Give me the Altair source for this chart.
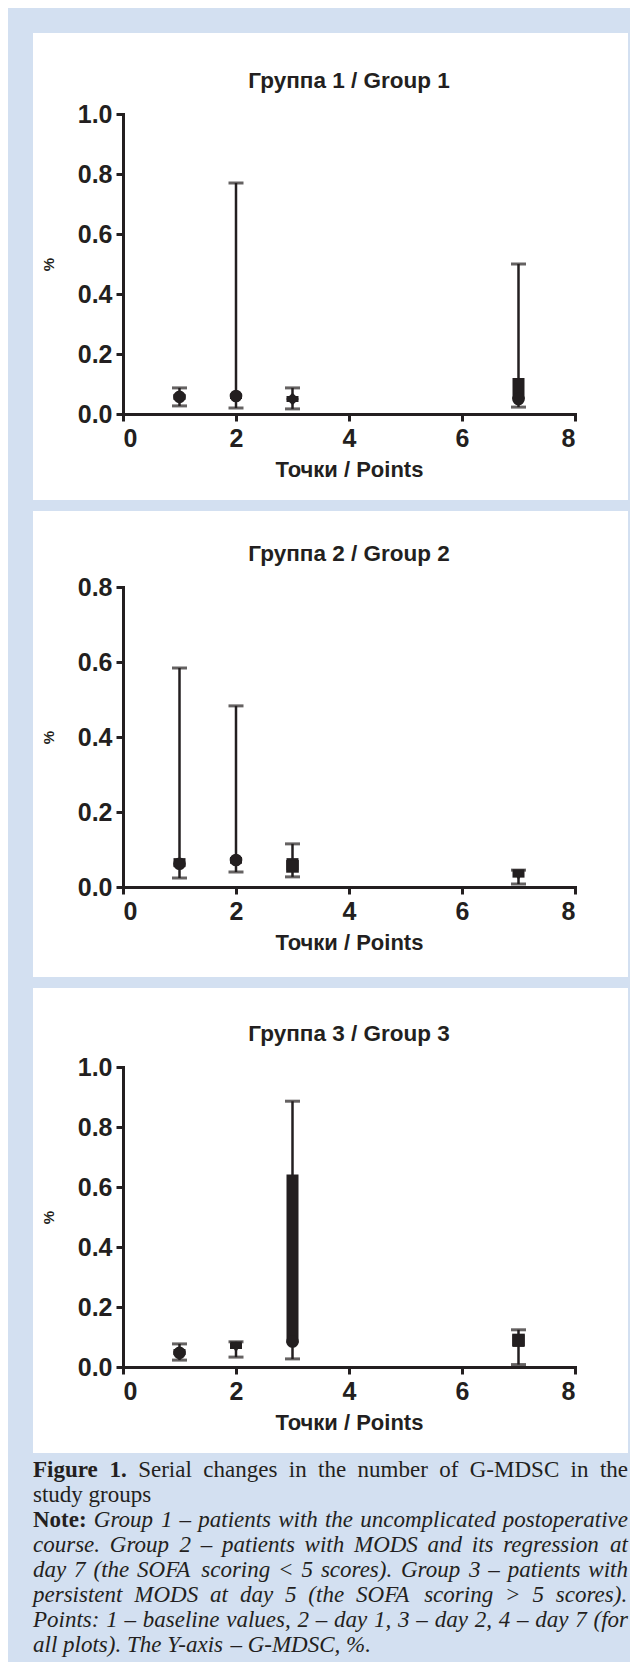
import altair as alt
import pandas as pd

BLACK = "#231f20"
BLUE = "#d3e0f1"
SANS = "Liberation Sans"
NARROW = "Liberation Sans Narrow, Arial Narrow, Liberation Sans"
SERIF = "Liberation Serif"

POINTS = [1, 2, 3, 7]
X_TICKS = [0, 2, 4, 6, 8]

TITLES = ["Группа 1 / Group 1", "Группа 2 / Group 2", "Группа 3 / Group 3"]
X_TITLE = "Точки / Points"
Y_TITLE = "%"
Y_MAX = [1.0, 0.8, 1.0]

G1_LO = [0.027, 0.020, 0.017, 0.023]
G1_HI = [0.087, 0.770, 0.087, 0.500]
G1_Q1 = [0.047, 0.050, 0.040, 0.050]
G1_Q3 = [0.067, 0.068, 0.060, 0.120]
G1_MID = [0.057, 0.060, 0.050, 0.050]
G1_SHAPE = ["circle", "circle", "diamond", "circle"]

G2_LO = [0.024, 0.040, 0.027, 0.008]
G2_HI = [0.584, 0.483, 0.115, 0.045]
G2_Q1 = [0.053, 0.062, 0.045, 0.025]
G2_Q3 = [0.077, 0.080, 0.077, 0.045]
G2_MID = [0.062, 0.072, 0.055, 0.033]
G2_SHAPE = ["circle", "circle", "square", "triangle-down"]

G3_LO = [0.023, 0.033, 0.027, 0.008]
G3_HI = [0.077, 0.084, 0.886, 0.124]
G3_Q1 = [0.040, 0.060, 0.080, 0.067]
G3_Q3 = [0.060, 0.080, 0.642, 0.107]
G3_MID = [0.047, 0.067, 0.085, 0.090]
G3_SHAPE = ["circle", "triangle-down", "circle", "square"]

GROUPS = [
    (G1_LO, G1_HI, G1_Q1, G1_Q3, G1_MID, G1_SHAPE),
    (G2_LO, G2_HI, G2_Q1, G2_Q3, G2_MID, G2_SHAPE),
    (G3_LO, G3_HI, G3_Q1, G3_Q3, G3_MID, G3_SHAPE),
]

# caption: (segments, justified)
CAPTION_LINES = [
    ([("b", "Figure 1."), ("n", "Serial changes in the number of G-MDSC in the")], True),
    ([("n", "study groups")], False),
    ([("b", "Note:"), ("i", "Group 1 – patients with the uncomplicated postoperative")], True),
    ([("i", "course. Group 2 – patients with MODS and its regression at")], True),
    ([("i", "day 7 (the SOFA scoring < 5 scores). Group 3 – patients with")], True),
    ([("i", "persistent MODS at day 5 (the SOFA scoring > 5 scores).")], True),
    ([("i", "Points: 1 – baseline values, 2 – day 1, 3 – day 2, 4 – day 7 (for")], True),
    ([("i", "all plots). The Y-axis – G-MDSC, %.")], False),
]

# ---- approximate Times metrics (per 1000 em) for text justification ----
_UP_R = dict(zip("ABCDEFGHIJKLMNOPQRSTUVWXYZ",
                 [722, 667, 667, 722, 611, 556, 722, 722, 333, 389, 722, 611, 889,
                  722, 722, 556, 722, 667, 556, 611, 722, 722, 944, 722, 722, 611]))
_LO_R = dict(zip("abcdefghijklmnopqrstuvwxyz",
                 [444, 500, 444, 500, 444, 333, 500, 500, 278, 278, 500, 278, 778,
                  500, 500, 500, 500, 333, 389, 278, 500, 500, 722, 500, 500, 444]))
_UP_I = dict(zip("ABCDEFGHIJKLMNOPQRSTUVWXYZ",
                 [611, 611, 667, 722, 611, 611, 722, 722, 333, 444, 667, 556, 833,
                  667, 722, 611, 722, 611, 500, 556, 722, 611, 833, 611, 556, 556]))
_LO_I = dict(zip("abcdefghijklmnopqrstuvwxyz",
                 [500, 500, 444, 500, 444, 278, 500, 500, 278, 278, 444, 278, 722,
                  500, 500, 500, 500, 389, 389, 278, 500, 444, 667, 444, 444, 389]))
_PUNCT = {" ": 250, ",": 250, ".": 250, "(": 333, ")": 333, "-": 333, ":": 278,
          "<": 564, ">": 564, "%": 833, "–": 500}
ROMAN = {**_UP_R, **_LO_R, **_PUNCT}
ITALIC = {**_UP_I, **_LO_I, **_PUNCT, ":": 333, "<": 675, ">": 675}
BOLD = {**ROMAN, "F": 611, "N": 722, "u": 556, "r": 444, "t": 333, ":": 333}
TABLES = {"n": ROMAN, "i": ITALIC, "b": BOLD}

CAP_FS = 23
CAP_LEFT, CAP_RIGHT = -90, 505
CAP_Y0, CAP_DY = 403, 25


def text_w(s, style):
    t = TABLES[style]
    return sum(t.get(c, 500) for c in s) / 1000 * CAP_FS


def caption_words():
    rows = []
    for li, (segs, just) in enumerate(CAPTION_LINES):
        words = [(st, w) for st, txt in segs for w in txt.split(" ")]
        widths = [text_w(w, st) for st, w in words]
        if just and len(words) > 1:
            gap = (CAP_RIGHT - CAP_LEFT - sum(widths)) / (len(words) - 1)
        else:
            gap = 0.25 * CAP_FS
        x = CAP_LEFT
        for (st, w), wd in zip(words, widths):
            rows.append({"w": w, "st": st, "px": x, "py": CAP_Y0 + CAP_DY * li})
            x += wd + gap
    return pd.DataFrame(rows)


W, H = 452, 300
PANEL_Y = [(-81, 386), (-76, 390), (-79, 386)]


def make_panel(i):
    lo, hi, q1, q3, mid, shp = GROUPS[i]
    df = pd.DataFrame({"x": POINTS, "lo": lo, "hi": hi, "q1": q1,
                       "q3": q3, "mid": mid, "shape": shp})
    ymax = Y_MAX[i]
    yticks = [round(v * 0.2, 1) for v in range(int(round(ymax / 0.2)) + 1)]

    xaxis = alt.Axis(values=X_TICKS, format="d", title=X_TITLE, zindex=1,
                     titlePadding=8, labelPadding=5)
    yaxis = alt.Axis(values=yticks, format=".1f", title=Y_TITLE, zindex=1,
                     titlePadding=21, labelPadding=4)
    xs = alt.Scale(domain=[0, 8], nice=False, zero=False)
    ys = alt.Scale(domain=[0, ymax], nice=False, zero=False)

    def X():
        return alt.X("x:Q", scale=xs, axis=xaxis)

    def Y(f):
        return alt.Y(f"{f}:Q", scale=ys, axis=yaxis)

    base = alt.Chart(df)
    y0, y1 = PANEL_Y[i]
    bg = alt.Chart(pd.DataFrame({"a": [0]})).mark_rect(color="white").encode(
        x=alt.value(-90), x2=alt.value(505), y=alt.value(y0), y2=alt.value(y1))
    title = alt.Chart(pd.DataFrame({"t": [TITLES[i]]})).mark_text(
        font=SANS, fontWeight="bold", fontSize=22.5, color=BLACK, baseline="middle"
    ).encode(x=alt.value(226), y=alt.value(-33), text="t:N")

    rng = base.mark_rule(color=BLACK, strokeWidth=2.5).encode(
        x=X(), y=Y("lo"), y2="hi:Q")
    thick = base.mark_rule(color=BLACK, strokeWidth=12, strokeCap="butt").encode(
        x=X(), y=Y("q1"), y2="q3:Q")
    cap_lo = base.mark_tick(orient="horizontal", color=BLACK, size=15,
                            thickness=3).encode(x=X(), y=Y("lo"))
    cap_hi = base.mark_tick(orient="horizontal", color=BLACK, size=15,
                            thickness=3).encode(x=X(), y=Y("hi"))
    pts = base.mark_point(filled=True, size=160, opacity=1, color=BLACK).encode(
        x=X(), y=Y("mid"), shape=alt.Shape("shape:N", scale=None))

    data_layer = alt.layer(rng, thick, cap_lo, cap_hi, pts)
    layers = [bg, title, data_layer]

    if i == 2:
        words = caption_words()
        for st in ["b", "n", "i"]:
            kw = dict(font=SERIF, fontSize=CAP_FS, color=BLACK, align="left",
                      baseline="middle")
            if st == "b":
                kw["fontWeight"] = "bold"
            if st == "i":
                kw["fontStyle"] = "italic"
            layers.append(
                alt.Chart(words[words["st"] == st]).mark_text(**kw).encode(
                    x=alt.X("px:Q", scale=None, axis=None),
                    y=alt.Y("py:Q", scale=None, axis=None),
                    text="w:N"))

    return alt.layer(*layers).resolve_scale(x="independent", y="independent").properties(
        width=W, height=H)


chart = alt.vconcat(*[make_panel(i) for i in range(3)], spacing=11).properties(
    background=BLUE,
    padding={"left": 25, "top": 25, "right": 2, "bottom": 5},
).configure_view(stroke=None).configure_axis(
    domainColor=BLACK, domainWidth=3, domainCap="square",
    tickColor=BLACK, tickWidth=3, tickSize=7,
    labelFont=NARROW, labelFontWeight="bold", labelFontSize=25, labelColor=BLACK,
    titleFont=SANS, titleFontWeight="bold", titleFontSize=22, titleColor=BLACK,
    grid=False,
).configure_axisY(titleFontSize=15)

chart.save("out.html", embed_options={"renderer": "svg", "actions": False})
